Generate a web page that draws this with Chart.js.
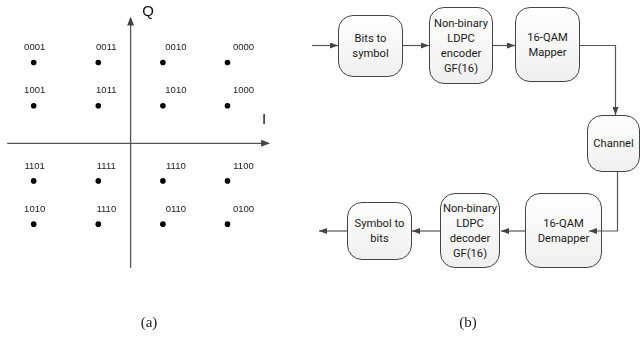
<!DOCTYPE html>
<html>
<head>
<meta charset="utf-8">
<script src="https://cdn.jsdelivr.net/npm/chart.js"></script>
<style>
  body { margin: 0; background: #fff; width: 640px; height: 344px; position: relative; overflow: hidden; }
  #qam { position: absolute; left: 0; top: 0; }
  .box {
    position: absolute; box-sizing: border-box;
    border: 1px solid #444; border-radius: 15px;
    background: linear-gradient(#ffffff, #efefef);
    display: flex; align-items: center; justify-content: center; text-align: center;
    font: 11.2px/15px Roboto, sans-serif; color: #1a1a1a;
  }
  #flow { position: absolute; left: 0; top: 0; }
  .cap { position: absolute; font: 15px "Liberation Serif", serif; color: #222; transform: translate(-50%, -50%); }
</style>
</head>
<body>
<canvas id="qam" width="280" height="290"></canvas>
<div id="diagram"></div>
<svg id="flow" width="640" height="344">
  <defs>
    <marker id="ah" markerWidth="8" markerHeight="6" refX="8" refY="3" orient="auto" markerUnits="userSpaceOnUse">
      <path d="M0,0 L8,3 L0,6 z" fill="#444"/>
    </marker>
  </defs>
</svg>
<span class="cap" style="left:149px;top:322px">(a)</span>
<span class="cap" style="left:468px;top:322px">(b)</span>

<script>
// constellation (a)
const iLevels = [-3, -1, 1, 3];
const qLevels = [2.15, 1, -1, -2.15];
const symbolLabels = [
  ['0001', '0011', '0010', '0000'],
  ['1001', '1011', '1010', '1000'],
  ['1101', '1111', '1110', '1100'],
  ['1010', '1110', '0110', '0100']
];

// block diagram (b)
const blockNames = [
  'Bits to<br>symbol',
  'Non-binary<br>LDPC<br>encoder<br>GF(16)',
  '16-QAM<br>Mapper',
  'Channel',
  '16-QAM<br>Demapper',
  'Non-binary<br>LDPC<br>decoder<br>GF(16)',
  'Symbol to<br>bits'
];

const points = [];
qLevels.forEach((q, r) => {
  iLevels.forEach((i, c) => {
    points.push({ x: i, y: q, label: symbolLabels[r][c], col: c });
  });
});

// small shift of each label to the right of its dot, per column
const labelShift = [1, 8, 13, 16];

const qamAxes = {
  id: 'qamAxes',
  beforeDatasetsDraw(chart) {
    const ctx = chart.ctx;
    const xs = chart.scales.x, ys = chart.scales.y;
    const x0 = xs.getPixelForValue(0), y0 = ys.getPixelForValue(0);
    const xL = xs.getPixelForValue(-3.82), xR = xs.getPixelForValue(4.32);
    const yT = ys.getPixelForValue(3.37), yB = ys.getPixelForValue(-3.32);
    ctx.save();
    ctx.strokeStyle = '#555';
    ctx.fillStyle = '#444';
    ctx.lineWidth = 1.3;
    ctx.beginPath();
    ctx.moveTo(xL, y0); ctx.lineTo(xR - 7, y0);
    ctx.moveTo(x0, yB); ctx.lineTo(x0, yT + 7);
    ctx.stroke();
    ctx.beginPath();
    ctx.moveTo(xR, y0); ctx.lineTo(xR - 9, y0 - 3.5); ctx.lineTo(xR - 9, y0 + 3.5); ctx.closePath();
    ctx.moveTo(x0, yT); ctx.lineTo(x0 - 3.5, yT + 9); ctx.lineTo(x0 + 3.5, yT + 9); ctx.closePath();
    ctx.fill();
    ctx.fillStyle = '#111';
    ctx.font = '15px "Liberation Sans", Arial, sans-serif';
    ctx.textAlign = 'center';
    ctx.textBaseline = 'middle';
    ctx.fillText('Q', x0 + 17.5, yT - 4.5);
    ctx.fillText('I', xR - 6, y0 - 23);
    ctx.restore();
  },
  afterDatasetsDraw(chart) {
    const ctx = chart.ctx;
    const meta = chart.getDatasetMeta(0);
    ctx.save();
    ctx.fillStyle = '#1a1a1a';
    ctx.font = '9.5px "Liberation Sans", Arial, sans-serif';
    ctx.textAlign = 'center';
    ctx.textBaseline = 'middle';
    meta.data.forEach((el, k) => {
      const p = points[k];
      ctx.fillText(p.label, el.x + labelShift[p.col], el.y - 15);
    });
    ctx.restore();
  }
};

new Chart(document.getElementById('qam'), {
  type: 'scatter',
  data: {
    datasets: [{
      data: points,
      pointRadius: 2.8,
      pointBackgroundColor: '#000',
      pointBorderWidth: 0
    }]
  },
  options: {
    responsive: false,
    animation: false,
    layout: { padding: 0, autoPadding: false },
    scales: {
      x: { type: 'linear', min: -4.043, max: 4.625, display: false },
      y: { type: 'linear', min: -3.902, max: 3.811, display: false }
    },
    plugins: { legend: { display: false }, tooltip: { enabled: false } }
  },
  plugins: [qamAxes]
});

// diagram layout (left, top, width, height)
const boxRects = [
  [338, 15, 65, 62],
  [429, 7, 64, 77],
  [515, 7, 65, 75],
  [587, 115, 53, 57],
  [525, 193, 77, 75],
  [440, 193, 60, 75],
  [347, 202, 65, 58]
];
const diagram = document.getElementById('diagram');
blockNames.forEach((name, k) => {
  const [l, t, w, h] = boxRects[k];
  const d = document.createElement('div');
  d.className = 'box';
  d.style.cssText = `left:${l}px;top:${t}px;width:${w}px;height:${h}px`;
  d.innerHTML = name;
  diagram.appendChild(d);
});

const links = [
  'M312,45.5 H338',
  'M403,45.5 H429',
  'M493,45.5 H515',
  'M580,45.5 H615.5 V115',
  'M617.5,172 V231 H589',
  'M525,231 H501',
  'M440,231 H412',
  'M347,231 H319'
];
const svg = document.getElementById('flow');
links.forEach(d => {
  const p = document.createElementNS('http://www.w3.org/2000/svg', 'path');
  p.setAttribute('d', d);
  p.setAttribute('fill', 'none');
  p.setAttribute('stroke', '#555');
  p.setAttribute('stroke-width', '1.2');
  p.setAttribute('marker-end', 'url(#ah)');
  svg.appendChild(p);
});
</script>
</body>
</html>
